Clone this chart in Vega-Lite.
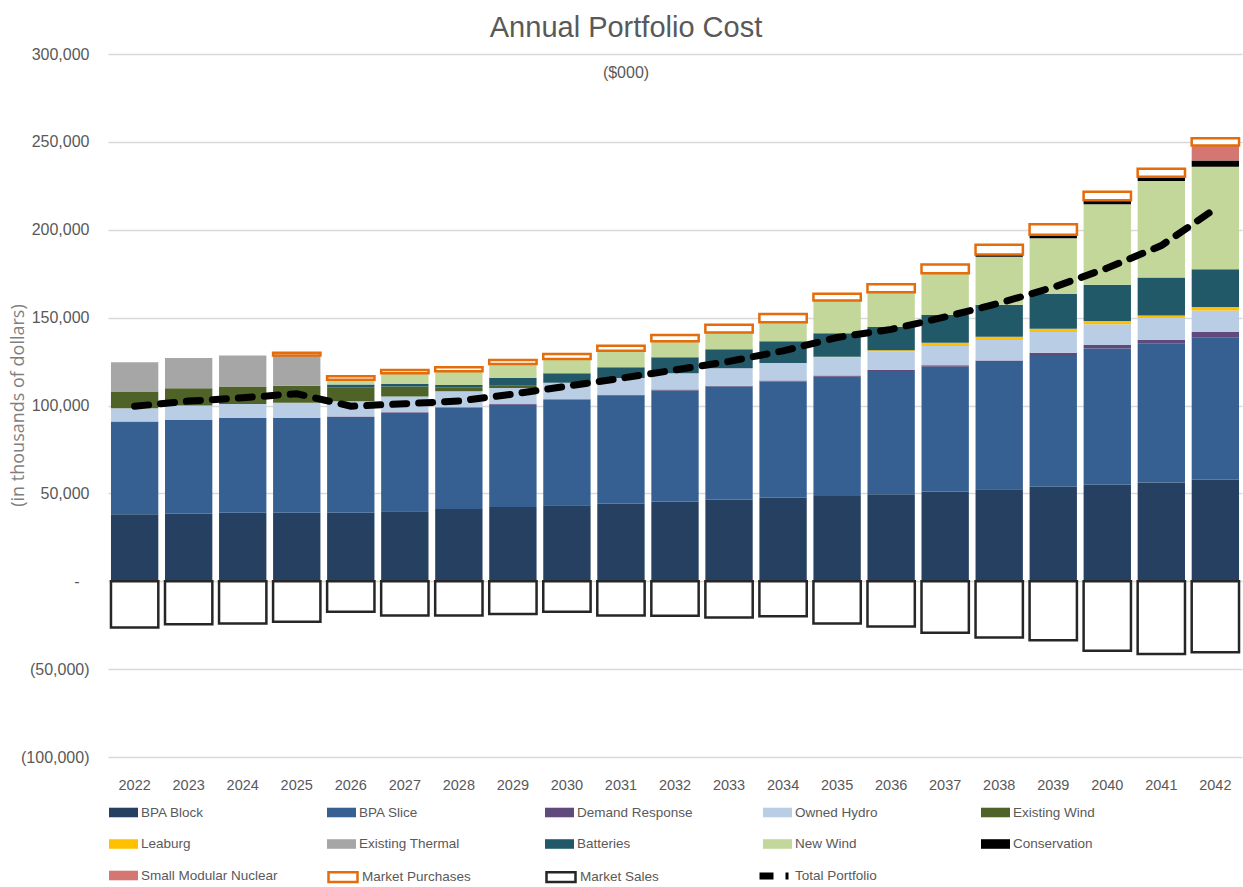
{
  "$schema": "https://vega.github.io/schema/vega-lite/v6.json",
  "autosize": "none",
  "width": 1134,
  "height": 703,
  "padding": {"left": 108, "top": 54, "right": 1, "bottom": 130},
  "background": "white",
  "config": {
    "view": {"stroke": null},
    "font": "Liberation Sans, Arial, sans-serif"
  },
  "title": {
    "text": "Annual Portfolio Cost",
    "subtitle": "($000)",
    "fontSize": 29,
    "fontWeight": "normal",
    "subtitleFontSize": 16,
    "color": "#595959",
    "subtitleColor": "#595959",
    "font": "Liberation Sans, Arial, sans-serif",
    "subtitleFont": "Liberation Sans, Arial, sans-serif",
    "anchor": "middle",
    "frame": "group",
    "dx": -49,
    "dy": 35,
    "offset": 0,
    "subtitlePadding": 22
  },
  "datasets": {
    "costs": [
      {"year": "2022", "series": "BPA Block", "value": 38100},
      {"year": "2022", "series": "BPA Slice", "value": 52800},
      {"year": "2022", "series": "Owned Hydro", "value": 7600},
      {"year": "2022", "series": "Existing Wind", "value": 9500},
      {"year": "2022", "series": "Existing Thermal", "value": 16600},
      {"year": "2022", "series": "Market Sales", "value": -26300},

      {"year": "2023", "series": "BPA Block", "value": 38400},
      {"year": "2023", "series": "BPA Slice", "value": 53400},
      {"year": "2023", "series": "Owned Hydro", "value": 8200},
      {"year": "2023", "series": "Existing Wind", "value": 9800},
      {"year": "2023", "series": "Existing Thermal", "value": 17200},
      {"year": "2023", "series": "Market Sales", "value": -24400},

      {"year": "2024", "series": "BPA Block", "value": 39000},
      {"year": "2024", "series": "BPA Slice", "value": 54000},
      {"year": "2024", "series": "Owned Hydro", "value": 7900},
      {"year": "2024", "series": "Existing Wind", "value": 9900},
      {"year": "2024", "series": "Existing Thermal", "value": 17600},
      {"year": "2024", "series": "Market Sales", "value": -24000},

      {"year": "2025", "series": "BPA Block", "value": 39000},
      {"year": "2025", "series": "BPA Slice", "value": 54000},
      {"year": "2025", "series": "Owned Hydro", "value": 8500},
      {"year": "2025", "series": "Existing Wind", "value": 9800},
      {"year": "2025", "series": "Existing Thermal", "value": 17100},
      {"year": "2025", "series": "Market Purchases", "value": 1600},
      {"year": "2025", "series": "Market Sales", "value": -23100},

      {"year": "2026", "series": "BPA Block", "value": 39000},
      {"year": "2026", "series": "BPA Slice", "value": 54400},
      {"year": "2026", "series": "Demand Response", "value": 300},
      {"year": "2026", "series": "Owned Hydro", "value": 8700},
      {"year": "2026", "series": "Existing Wind", "value": 8000},
      {"year": "2026", "series": "Batteries", "value": 1500},
      {"year": "2026", "series": "New Wind", "value": 2700},
      {"year": "2026", "series": "Market Purchases", "value": 2100},
      {"year": "2026", "series": "Market Sales", "value": -17400},

      {"year": "2027", "series": "BPA Block", "value": 39800},
      {"year": "2027", "series": "BPA Slice", "value": 56000},
      {"year": "2027", "series": "Demand Response", "value": 400},
      {"year": "2027", "series": "Owned Hydro", "value": 8900},
      {"year": "2027", "series": "Existing Wind", "value": 5700},
      {"year": "2027", "series": "Batteries", "value": 1500},
      {"year": "2027", "series": "New Wind", "value": 6000},
      {"year": "2027", "series": "Market Purchases", "value": 1900},
      {"year": "2027", "series": "Market Sales", "value": -19500},

      {"year": "2028", "series": "BPA Block", "value": 41100},
      {"year": "2028", "series": "BPA Slice", "value": 57500},
      {"year": "2028", "series": "Demand Response", "value": 400},
      {"year": "2028", "series": "Owned Hydro", "value": 9100},
      {"year": "2028", "series": "Existing Wind", "value": 2300},
      {"year": "2028", "series": "Batteries", "value": 1300},
      {"year": "2028", "series": "New Wind", "value": 7800},
      {"year": "2028", "series": "Market Purchases", "value": 2200},
      {"year": "2028", "series": "Market Sales", "value": -19500},

      {"year": "2029", "series": "BPA Block", "value": 42200},
      {"year": "2029", "series": "BPA Slice", "value": 58200},
      {"year": "2029", "series": "Demand Response", "value": 500},
      {"year": "2029", "series": "Owned Hydro", "value": 9100},
      {"year": "2029", "series": "Existing Wind", "value": 1300},
      {"year": "2029", "series": "Batteries", "value": 4400},
      {"year": "2029", "series": "New Wind", "value": 7900},
      {"year": "2029", "series": "Market Purchases", "value": 2300},
      {"year": "2029", "series": "Market Sales", "value": -18700},

      {"year": "2030", "series": "BPA Block", "value": 43200},
      {"year": "2030", "series": "BPA Slice", "value": 59900},
      {"year": "2030", "series": "Demand Response", "value": 500},
      {"year": "2030", "series": "Owned Hydro", "value": 9300},
      {"year": "2030", "series": "Batteries", "value": 5400},
      {"year": "2030", "series": "New Wind", "value": 8200},
      {"year": "2030", "series": "Market Purchases", "value": 2800},
      {"year": "2030", "series": "Market Sales", "value": -17400},

      {"year": "2031", "series": "BPA Block", "value": 44100},
      {"year": "2031", "series": "BPA Slice", "value": 61400},
      {"year": "2031", "series": "Demand Response", "value": 500},
      {"year": "2031", "series": "Owned Hydro", "value": 9700},
      {"year": "2031", "series": "Batteries", "value": 6000},
      {"year": "2031", "series": "New Wind", "value": 9500},
      {"year": "2031", "series": "Market Purchases", "value": 2800},
      {"year": "2031", "series": "Market Sales", "value": -19500},

      {"year": "2032", "series": "BPA Block", "value": 45400},
      {"year": "2032", "series": "BPA Slice", "value": 63200},
      {"year": "2032", "series": "Demand Response", "value": 500},
      {"year": "2032", "series": "Owned Hydro", "value": 9200},
      {"year": "2032", "series": "Batteries", "value": 9100},
      {"year": "2032", "series": "New Wind", "value": 9100},
      {"year": "2032", "series": "Market Purchases", "value": 3600},
      {"year": "2032", "series": "Market Sales", "value": -19700},

      {"year": "2033", "series": "BPA Block", "value": 46400},
      {"year": "2033", "series": "BPA Slice", "value": 64400},
      {"year": "2033", "series": "Demand Response", "value": 500},
      {"year": "2033", "series": "Owned Hydro", "value": 9900},
      {"year": "2033", "series": "Batteries", "value": 10800},
      {"year": "2033", "series": "New Wind", "value": 9600},
      {"year": "2033", "series": "Market Purchases", "value": 4400},
      {"year": "2033", "series": "Market Sales", "value": -20600},

      {"year": "2034", "series": "BPA Block", "value": 47500},
      {"year": "2034", "series": "BPA Slice", "value": 66100},
      {"year": "2034", "series": "Demand Response", "value": 600},
      {"year": "2034", "series": "Owned Hydro", "value": 10000},
      {"year": "2034", "series": "Batteries", "value": 12300},
      {"year": "2034", "series": "New Wind", "value": 10800},
      {"year": "2034", "series": "Market Purchases", "value": 4700},
      {"year": "2034", "series": "Market Sales", "value": -19900},

      {"year": "2035", "series": "BPA Block", "value": 48500},
      {"year": "2035", "series": "BPA Slice", "value": 67900},
      {"year": "2035", "series": "Demand Response", "value": 600},
      {"year": "2035", "series": "Owned Hydro", "value": 10400},
      {"year": "2035", "series": "Leaburg", "value": 300},
      {"year": "2035", "series": "Batteries", "value": 13400},
      {"year": "2035", "series": "New Wind", "value": 18700},
      {"year": "2035", "series": "Market Purchases", "value": 3800},
      {"year": "2035", "series": "Market Sales", "value": -24000},

      {"year": "2036", "series": "BPA Block", "value": 49500},
      {"year": "2036", "series": "BPA Slice", "value": 70200},
      {"year": "2036", "series": "Demand Response", "value": 700},
      {"year": "2036", "series": "Owned Hydro", "value": 10400},
      {"year": "2036", "series": "Leaburg", "value": 700},
      {"year": "2036", "series": "Batteries", "value": 13200},
      {"year": "2036", "series": "New Wind", "value": 19800},
      {"year": "2036", "series": "Market Purchases", "value": 4500},
      {"year": "2036", "series": "Market Sales", "value": -25800},

      {"year": "2037", "series": "BPA Block", "value": 51000},
      {"year": "2037", "series": "BPA Slice", "value": 71000},
      {"year": "2037", "series": "Demand Response", "value": 900},
      {"year": "2037", "series": "Owned Hydro", "value": 10900},
      {"year": "2037", "series": "Leaburg", "value": 1900},
      {"year": "2037", "series": "Batteries", "value": 15800},
      {"year": "2037", "series": "New Wind", "value": 23700},
      {"year": "2037", "series": "Market Purchases", "value": 5000},
      {"year": "2037", "series": "Market Sales", "value": -29300},

      {"year": "2038", "series": "BPA Block", "value": 52300},
      {"year": "2038", "series": "BPA Slice", "value": 72500},
      {"year": "2038", "series": "Demand Response", "value": 800},
      {"year": "2038", "series": "Owned Hydro", "value": 11600},
      {"year": "2038", "series": "Leaburg", "value": 1900},
      {"year": "2038", "series": "Batteries", "value": 18200},
      {"year": "2038", "series": "New Wind", "value": 27400},
      {"year": "2038", "series": "Conservation", "value": 1200},
      {"year": "2038", "series": "Market Purchases", "value": 5500},
      {"year": "2038", "series": "Market Sales", "value": -32000},

      {"year": "2039", "series": "BPA Block", "value": 53700},
      {"year": "2039", "series": "BPA Slice", "value": 74400},
      {"year": "2039", "series": "Demand Response", "value": 1900},
      {"year": "2039", "series": "Owned Hydro", "value": 11800},
      {"year": "2039", "series": "Leaburg", "value": 1900},
      {"year": "2039", "series": "Batteries", "value": 19700},
      {"year": "2039", "series": "New Wind", "value": 31800},
      {"year": "2039", "series": "Conservation", "value": 1900},
      {"year": "2039", "series": "Market Purchases", "value": 6000},
      {"year": "2039", "series": "Market Sales", "value": -33600},

      {"year": "2040", "series": "BPA Block", "value": 54900},
      {"year": "2040", "series": "BPA Slice", "value": 77600},
      {"year": "2040", "series": "Demand Response", "value": 1900},
      {"year": "2040", "series": "Owned Hydro", "value": 11800},
      {"year": "2040", "series": "Leaburg", "value": 1900},
      {"year": "2040", "series": "Batteries", "value": 20600},
      {"year": "2040", "series": "New Wind", "value": 45800},
      {"year": "2040", "series": "Conservation", "value": 2300},
      {"year": "2040", "series": "Market Purchases", "value": 4800},
      {"year": "2040", "series": "Market Sales", "value": -39500},

      {"year": "2041", "series": "BPA Block", "value": 56200},
      {"year": "2041", "series": "BPA Slice", "value": 79000},
      {"year": "2041", "series": "Demand Response", "value": 2200},
      {"year": "2041", "series": "Owned Hydro", "value": 12400},
      {"year": "2041", "series": "Leaburg", "value": 1400},
      {"year": "2041", "series": "Batteries", "value": 21700},
      {"year": "2041", "series": "New Wind", "value": 54800},
      {"year": "2041", "series": "Conservation", "value": 2400},
      {"year": "2041", "series": "Market Purchases", "value": 4600},
      {"year": "2041", "series": "Market Sales", "value": -41400},

      {"year": "2042", "series": "BPA Block", "value": 57800},
      {"year": "2042", "series": "BPA Slice", "value": 80800},
      {"year": "2042", "series": "Demand Response", "value": 3300},
      {"year": "2042", "series": "Owned Hydro", "value": 12200},
      {"year": "2042", "series": "Leaburg", "value": 1900},
      {"year": "2042", "series": "Batteries", "value": 21500},
      {"year": "2042", "series": "New Wind", "value": 58400},
      {"year": "2042", "series": "Conservation", "value": 3500},
      {"year": "2042", "series": "Small Modular Nuclear", "value": 8600},
      {"year": "2042", "series": "Market Purchases", "value": 4100},
      {"year": "2042", "series": "Market Sales", "value": -40400}
    ],
    "total": [
      {"year": "2022", "total": 99600},
      {"year": "2023", "total": 102500},
      {"year": "2024", "total": 104400},
      {"year": "2025", "total": 106700},
      {"year": "2026", "total": 99600},
      {"year": "2027", "total": 101000},
      {"year": "2028", "total": 102500},
      {"year": "2029", "total": 106500},
      {"year": "2030", "total": 111000},
      {"year": "2031", "total": 115500},
      {"year": "2032", "total": 120200},
      {"year": "2033", "total": 125100},
      {"year": "2034", "total": 131100},
      {"year": "2035", "total": 138700},
      {"year": "2036", "total": 143300},
      {"year": "2037", "total": 150400},
      {"year": "2038", "total": 158200},
      {"year": "2039", "total": 167200},
      {"year": "2040", "total": 178200},
      {"year": "2041", "total": 191000},
      {"year": "2042", "total": 212000}
    ]
  },
  "encoding": {
    "x": {
      "field": "year",
      "type": "ordinal",
      "scale": {"paddingInner": 0.124, "paddingOuter": 0.055},
      "axis": {
        "title": null,
        "labelAngle": 0,
        "labelFontSize": 14.5,
        "labelColor": "#595959",
        "labelPadding": 21,
        "ticks": false,
        "tickSize": 0,
        "domain": false,
        "grid": false
      }
    }
  },
  "layer": [
    {
      "data": {"name": "costs"},
      "transform": [
        {"calculate": "indexof(['BPA Block','BPA Slice','Demand Response','Owned Hydro','Existing Wind','Leaburg','Existing Thermal','Batteries','New Wind','Conservation','Small Modular Nuclear','Market Purchases','Market Sales'], datum.series)", "as": "ord"}
      ],
      "mark": {"type": "bar"},
      "encoding": {
        "y": {
          "field": "value",
          "type": "quantitative",
          "stack": "zero",
          "scale": {"domain": [-100000, 300000], "nice": false},
          "axis": {
            "title": "(in thousands of dollars)",
            "titleFont": "Open Sans",
            "titleFontSize": 18,
            "titleFontWeight": "normal",
            "titleColor": "#7f7f7f",
            "titleX": -90,
            "titleY": 351,
            "titleAngle": -90,
            "titleAlign": "center",
            "titleBaseline": "middle",
            "values": [-100000, -50000, 0, 50000, 100000, 150000, 200000, 250000, 300000],
            "labelExpr": "datum.value == 0 ? '-' : datum.value < 0 ? '(' + format(-datum.value, ',') + ')' : format(datum.value, ',')",
            "labelFontSize": 16,
            "labelColor": "#595959",
            "labelPadding": {"condition": {"test": "datum.value == 0", "value": 29}, "value": 19},
            "ticks": false,
            "tickSize": 0,
            "domain": false,
            "grid": true,
            "gridColor": "#d9d9d9",
            "gridWidth": 1.3
          }
        },
        "color": {
          "field": "series",
          "type": "nominal",
          "scale": {
            "domain": ["BPA Block", "BPA Slice", "Demand Response", "Owned Hydro", "Existing Wind", "Leaburg", "Existing Thermal", "Batteries", "New Wind", "Conservation", "Small Modular Nuclear", "Market Purchases", "Market Sales"],
            "range": ["#254061", "#376092", "#604A7B", "#B9CDE5", "#4F6228", "#FFC000", "#A6A6A6", "#215968", "#C4D79B", "#000000", "#D47671", "#FFFFFF", "#FFFFFF"]
          },
          "legend": {
            "title": null,
            "values": ["BPA Block", "BPA Slice", "Demand Response", "Owned Hydro", "Existing Wind", "Leaburg", "Existing Thermal", "Batteries", "New Wind", "Conservation", "Small Modular Nuclear"],
            "orient": "none",
            "direction": "horizontal",
            "legendX": 1,
            "legendY": 744,
            "columns": 5,
            "gridAlign": "all",
            "columnPadding": 49,
            "rowPadding": 10.5,
            "symbolType": "M-1,-0.33H1V0.33H-1Z",
            "symbolSize": 841,
            "symbolStrokeWidth": 0,
            "labelFontSize": 13.5,
            "labelColor": "#595959",
            "labelOffset": 3,
            "labelLimit": 300
          }
        },
        "stroke": {
          "field": "series",
          "type": "nominal",
          "condition": {"test": "datum.series !== 'Market Purchases' && datum.series !== 'Market Sales'", "value": null},
          "scale": {"domain": ["Market Purchases", "Market Sales"], "range": ["#E46C0A", "#262626"]},
          "legend": {
            "title": null,
            "orient": "none",
            "direction": "horizontal",
            "legendX": 219,
            "legendY": 807,
            "columns": 2,
            "gridAlign": "all",
            "columnPadding": 70,
            "symbolType": "M-1,-0.33H1V0.33H-1Z",
            "symbolSize": 841,
            "symbolStrokeWidth": 2.5,
            "symbolFillColor": "#FFFFFF",
            "labelFontSize": 13.5,
            "labelColor": "#595959",
            "labelOffset": 3,
            "labelLimit": 300
          }
        },
        "strokeWidth": {
          "condition": {"test": "datum.series === 'Market Purchases' || datum.series === 'Market Sales'", "value": 2.5},
          "value": 0
        },
        "order": {"field": "ord", "type": "quantitative"}
      }
    },
    {
      "data": {"name": "total"},
      "mark": {"type": "line", "color": "#000000", "strokeWidth": 7, "strokeCap": "round"},
      "encoding": {
        "y": {"field": "total", "type": "quantitative"},
        "strokeDash": {
          "datum": "Total Portfolio",
          "type": "nominal",
          "scale": {"domain": ["Total Portfolio"], "range": [[14, 12]]},
          "legend": {
            "title": null,
            "orient": "none",
            "legendX": 648,
            "legendY": 804,
            "symbolType": "stroke",
            "symbolSize": 841,
            "symbolStrokeWidth": 7,
            "symbolStrokeColor": "#000000",
            "labelFontSize": 13.5,
            "labelColor": "#595959",
            "labelOffset": 3,
            "labelLimit": 300
          }
        }
      }
    }
  ]
}
